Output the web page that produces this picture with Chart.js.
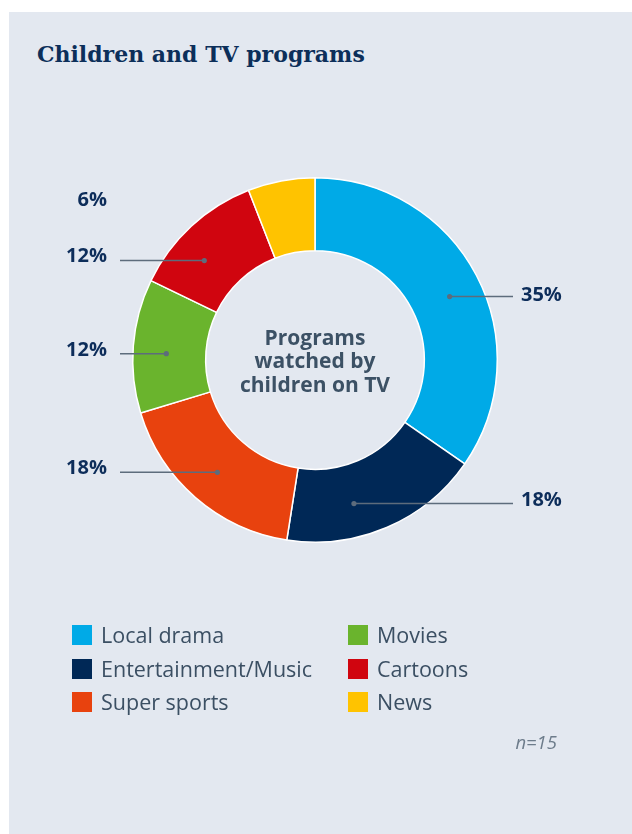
<!DOCTYPE html>
<html>
<head>
<meta charset="utf-8">
<script src="https://cdn.jsdelivr.net/npm/chart.js@4/dist/chart.umd.min.js"></script>
<style>
  html, body { margin: 0; padding: 0; background: #ffffff; }
  body { width: 632px; height: 834px; position: relative; overflow: hidden; }
  #panel { position: absolute; left: 9px; top: 12px; width: 623px; height: 822px; background: #e3e8f0; }
  #title { position: absolute; left: 37px; top: 40px; margin: 0; font-family: "DejaVu Serif", serif; font-weight: bold; font-size: 22px; line-height: 28px; color: #0c2f5a; }
  #chart { position: absolute; left: 0; top: 0; }
  #legend { position: absolute; left: 72px; top: 624px; width: 520px; font-family: "Open Sans", sans-serif; font-size: 21.5px; color: #3b4f63; }
  .item { position: absolute; height: 22px; line-height: 22px; white-space: nowrap; }
  .sw { position: absolute; left: 0; top: 1px; width: 20px; height: 20px; }
  .lbl { position: absolute; left: 29px; top: 0px; }
  #note { position: absolute; right: 75px; top: 729px; font-family: "Open Sans", sans-serif; font-style: italic; font-size: 18.5px; color: #6d7c8b; }
</style>
</head>
<body>
<div id="panel"></div>
<h1 id="title">Children and TV programs</h1>
<canvas id="chart" width="632" height="834"></canvas>
<div id="legend"></div>
<div id="note">n=15</div>
<script>
// Programme categories and the share of children watching each (%)
const categories = ["Local drama", "Entertainment/Music", "Super sports", "Movies", "Cartoons", "News"];
const shares = [35, 18, 18, 12, 12, 6];
const colors = ["#00aae7", "#002856", "#e8420e", "#6ab42d", "#d0050f", "#ffc300"];
const centerLines = ["Programs", "watched by", "children on TV"];

// Leader-dot placement: angular nudge (degrees) from each slice's middle
const dotNudge = [2.4, 8, 0, -2, -5.3, 0];
// Baseline offset of each percentage label from its leader line
const textDrop = [4, 2, 2, 2, 1, -8];

// Percentage labels with leader lines, placed beside the ring
const calloutPlugin = {
  id: "callouts",
  afterDatasetsDraw(chart) {
    const ctx = chart.ctx;
    const meta = chart.getDatasetMeta(0);
    ctx.save();
    ctx.font = "bold 20px 'Open Sans', sans-serif";
    ctx.textBaseline = "alphabetic";
    meta.data.forEach((arc, i) => {
      const p = arc.getProps(["x", "y", "startAngle", "endAngle", "innerRadius", "outerRadius"], true);
      const mid = (p.startAngle + p.endAngle) / 2 + dotNudge[i] * Math.PI / 180;
      const r = (p.innerRadius + p.outerRadius) / 2 + 3;
      const dx = p.x + Math.cos(mid) * r;
      const dy = p.y + Math.sin(mid) * r;
      const right = Math.cos(mid) >= 0;
      const text = shares[i] + "%";
      const small = (p.endAngle - p.startAngle) < 0.5;
      ctx.fillStyle = "#0d2d5a";
      if (right) {
        ctx.textAlign = "left";
        ctx.fillText(text, p.x + 206, dy + textDrop[i]);
      } else {
        ctx.textAlign = "right";
        ctx.fillText(text, p.x - 208, dy + textDrop[i]);
      }
      if (small) return;
      ctx.strokeStyle = "#5d6c7c";
      ctx.lineWidth = 1.5;
      ctx.beginPath();
      if (right) { ctx.moveTo(dx, dy); ctx.lineTo(p.x + 198, dy); }
      else { ctx.moveTo(p.x - 195, dy); ctx.lineTo(dx, dy); }
      ctx.stroke();
      ctx.fillStyle = "#5d6c7c";
      ctx.beginPath();
      ctx.arc(dx, dy, 2.6, 0, Math.PI * 2);
      ctx.fill();
    });
    // centre caption
    const c = meta.data[0];
    ctx.fillStyle = "#3c5165";
    ctx.textAlign = "center";
    ctx.textBaseline = "middle";
    ctx.font = "bold 21px 'Open Sans', sans-serif";
    centerLines.forEach((t, k) => ctx.fillText(t, c.x, c.y - 21 + k * 23.5));
    ctx.restore();
  }
};

new Chart(document.getElementById("chart"), {
  type: "doughnut",
  data: {
    labels: categories,
    datasets: [{
      data: shares,
      backgroundColor: colors,
      borderColor: "#ffffff",
      borderWidth: 1.5,
      hoverOffset: 0
    }]
  },
  options: {
    responsive: false,
    animation: false,
    cutout: "60%",
    layout: { padding: { left: 132, right: 134, top: 177, bottom: 291 } },
    plugins: { legend: { display: false }, tooltip: { enabled: false } }
  },
  plugins: [calloutPlugin]
});

// Two-column legend, filled column by column
const legend = document.getElementById("legend");
categories.forEach((name, i) => {
  const col = Math.floor(i / 3), row = i % 3;
  const el = document.createElement("div");
  el.className = "item";
  el.style.left = (col * 276) + "px";
  el.style.top = (row * 33.5) + "px";
  el.innerHTML = '<span class="sw" style="background:' + colors[i] + '"></span><span class="lbl">' + name + '</span>';
  legend.appendChild(el);
});
</script>
</body>
</html>
